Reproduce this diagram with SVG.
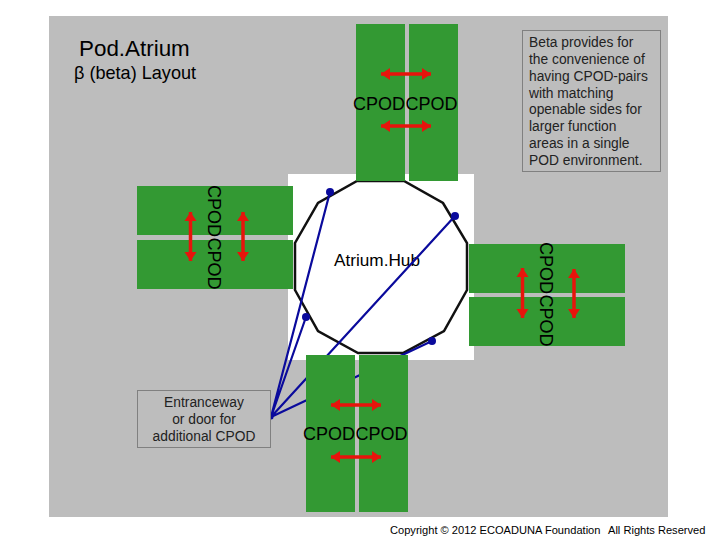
<svg xmlns="http://www.w3.org/2000/svg" width="720" height="540" viewBox="0 0 720 540">
<style>
text{font-family:"Liberation Sans",Arial,sans-serif;fill:#000}
.g{fill:#339933}
.c{font-size:18px}
.n{font-size:13.8px;fill:#222}
.b{fill:#bdbdbd;stroke:#808080;stroke-width:1}
.r{stroke:#e8140c;stroke-width:3.5;fill:none;marker-start:url(#a);marker-end:url(#a)}
.l{stroke:#0a0a9c;stroke-width:2.2;fill:none}
.d{fill:#0a0a9c}
</style>
<defs>
<marker id="a" markerUnits="userSpaceOnUse" markerWidth="14" markerHeight="14" refX="9" refY="7" orient="auto-start-reverse"><path d="M0 1L9 7L0 13Z" fill="#e8140c"/></marker>
</defs>
<rect width="720" height="540" fill="#fff"/>
<rect x="49" y="16" width="619" height="501" fill="#bdbdbd"/>
<rect x="288" y="174" width="186" height="186" fill="#fff"/>
<g id="hub">
<polygon points="357,181 404,181 443,203 467,243 467,290 444,331 403,353 358,353 318,331 295,290 295,243 318,203" fill="#fff" stroke="#111" stroke-width="2.5"/>
<text x="334" y="266" style="font-size:17.2px">Atrium.Hub</text>
</g>
<g id="connectors">
<path class="l" d="M271 417L330 192M271 417L306 317M271 417L432 341M271 417L455 216"/>
<circle class="d" cx="330" cy="192" r="4"/><circle class="d" cx="306" cy="317" r="4"/><circle class="d" cx="432" cy="341" r="4"/><circle class="d" cx="455" cy="216" r="4"/><circle class="d" cx="271" cy="417" r="2.500"/>
</g>
<g id="pods-top">
<rect class="g" x="356" y="24" width="49" height="157"/><rect class="g" x="409" y="24" width="49" height="157"/>
<path class="r" d="M381 74H431"/><path class="r" d="M381 126H431"/>
<text class="c" x="353" y="110">CPOD</text><text class="c" x="405.500" y="110">CPOD</text>
</g>
<g id="pods-bottom">
<rect class="g" x="306" y="355" width="49" height="157"/><rect class="g" x="359" y="355" width="49" height="157"/>
<path class="r" d="M331 405H381"/><path class="r" d="M331 457H381"/>
<text class="c" x="303" y="440">CPOD</text><text class="c" x="355.500" y="440">CPOD</text>
</g>
<g id="pods-left">
<rect class="g" x="137" y="186" width="156" height="49"/><rect class="g" x="137" y="240" width="156" height="49"/>
<path class="r" d="M190.500 212V261"/><path class="r" d="M243 212V261"/>
<text class="c" transform="translate(208 185) rotate(90)">CPOD</text><text class="c" transform="translate(208 237.500) rotate(90)">CPOD</text>
</g>
<g id="pods-right">
<rect class="g" x="469" y="244" width="156" height="49"/><rect class="g" x="469" y="297" width="156" height="49"/>
<path class="r" d="M522.500 268V318"/><path class="r" d="M574 269V318"/>
<text class="c" transform="translate(540 242) rotate(90)">CPOD</text><text class="c" transform="translate(540 294.500) rotate(90)">CPOD</text>
</g>
<g id="title">
<text x="79" y="56" style="font-size:22.400px">Pod.Atrium</text>
<text x="74" y="79" style="font-size:18.100px">β (beta) Layout</text>
</g>
<g id="note">
<rect class="b" x="522.500" y="30.500" width="138" height="141"/>
<text class="n" x="529" y="47">Beta provides for</text>
<text class="n" x="529" y="64">the convenience of</text>
<text class="n" x="529" y="81">having CPOD-pairs</text>
<text class="n" x="529" y="98">with matching</text>
<text class="n" x="529" y="114">openable sides for</text>
<text class="n" x="529" y="131">larger function</text>
<text class="n" x="529" y="148">areas in a single</text>
<text class="n" x="529" y="165">POD environment.</text>
</g>
<g id="entrance">
<rect class="b" x="137.500" y="390.500" width="133" height="57"/>
<text class="n" x="204" y="407" text-anchor="middle">Entranceway</text>
<text class="n" x="204" y="424" text-anchor="middle">or door for</text>
<text class="n" x="204" y="441" text-anchor="middle">additional CPOD</text>
</g>
<text x="390" y="534" style="font-size:11.100px">Copyright © 2012 ECOADUNA Foundation<tspan x="608">All Rights Reserved</tspan></text>
</svg>
